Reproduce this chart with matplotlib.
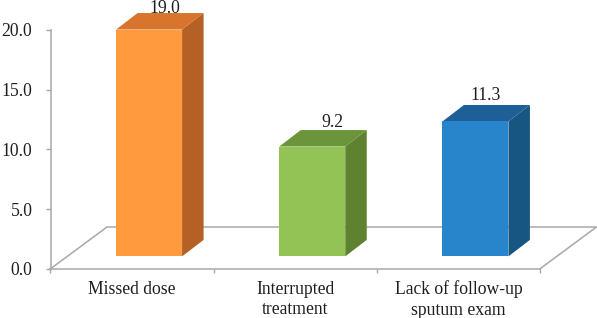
import matplotlib
matplotlib.use("Agg")
import matplotlib.pyplot as plt
from matplotlib.patches import Polygon

categories = ["Missed dose", "Interrupted\ntreatment", "Lack of follow-up\nsputum exam"]
values = [19.0, 9.2, 11.3]
value_labels = ["19.0", "9.2", "11.3"]
y_ticks = [0, 5, 10, 15, 20]

front_colors = ["#FF9A3F", "#93C355", "#2884CB"]
top_colors = ["#D9742C", "#6C953B", "#1F5F97"]
side_colors = ["#B56024", "#5F8231", "#175583"]
label_offsets = [(16, 21.5), (20, 24.5), (10, 26)]

W, H = 597, 318
L, R, B, T = 50.5, 540, 268.8, 30
GREY = "#A8A8A8"
TXT = "#1E1E1E"
plt.rcParams["font.family"] = ["Liberation Serif", "DejaVu Serif"]
plt.rcParams["font.size"] = 12.7

fig = plt.figure(figsize=(W / 100, H / 100), dpi=100, facecolor="white")
ax = fig.add_axes([L / W, 1 - B / H, (R - L) / W, (B - T) / H])
ax.set_xlim(-0.5, 2.5)
ax.set_ylim(0, 20)
ax.patch.set_visible(False)

ux = (R - L) / 3
uy = (B - T) / 20
bar_w = 66 / ux
bar_shift = 17 / ux
dx = 21.5 / ux
dy = 16.5 / uy
base = 12.4 / uy
floor_dx = 56.5 / ux
floor_dy = 41.8 / uy

# floor
ax.plot([-0.5, -0.5 + floor_dx, 2.5 + floor_dx, 2.5],
        [0, floor_dy, floor_dy, 0], color=GREY, lw=1.1, clip_on=False, zorder=1,
        solid_joinstyle="miter")

# bars
for i, v in enumerate(values):
    x0 = i + bar_shift - bar_w / 2
    x1 = x0 + bar_w
    y0 = base
    y1 = base + v
    ax.bar(x0, v, width=bar_w, bottom=y0, align="edge", color=front_colors[i],
           linewidth=0, zorder=3, clip_on=False)
    ax.add_patch(Polygon([(x0, y1), (x1, y1), (x1 + dx, y1 + dy), (x0 + dx, y1 + dy)],
                         closed=True, fc=top_colors[i], ec="none", zorder=2, clip_on=False))
    ax.add_patch(Polygon([(x1, y0), (x1 + dx, y0 + dy), (x1 + dx, y1 + dy), (x1, y1)],
                         closed=True, fc=side_colors[i], ec="none", zorder=2, clip_on=False))
    ax.annotate(value_labels[i], xy=(i + bar_shift, y1),
                xytext=(label_offsets[i][0] * 0.72, label_offsets[i][1] * 0.72),
                textcoords="offset points", ha="center", va="center", color=TXT,
                annotation_clip=False, zorder=5)

# axes
for s in ("top", "right"):
    ax.spines[s].set_visible(False)
for s in ("left", "bottom"):
    ax.spines[s].set_color(GREY)
    ax.spines[s].set_linewidth(1.1)
ax.set_yticks(y_ticks)
ax.set_yticklabels([f"{t:.1f}" for t in y_ticks], color=TXT)
ax.tick_params(axis="y", length=3.5, width=1, color=GREY, pad=9.5)
ax.set_xticks([-0.5, 0.5, 1.5, 2.5])
ax.set_xticklabels([])
ax.tick_params(axis="x", which="major", length=3, width=1, color=GREY)
ax.set_xticks(range(len(categories)), minor=True)
ax.set_xticklabels(categories, minor=True, color=TXT, linespacing=1.27)
ax.tick_params(axis="x", which="minor", length=0, pad=8.5)

fig.savefig("out.png", dpi=100)
